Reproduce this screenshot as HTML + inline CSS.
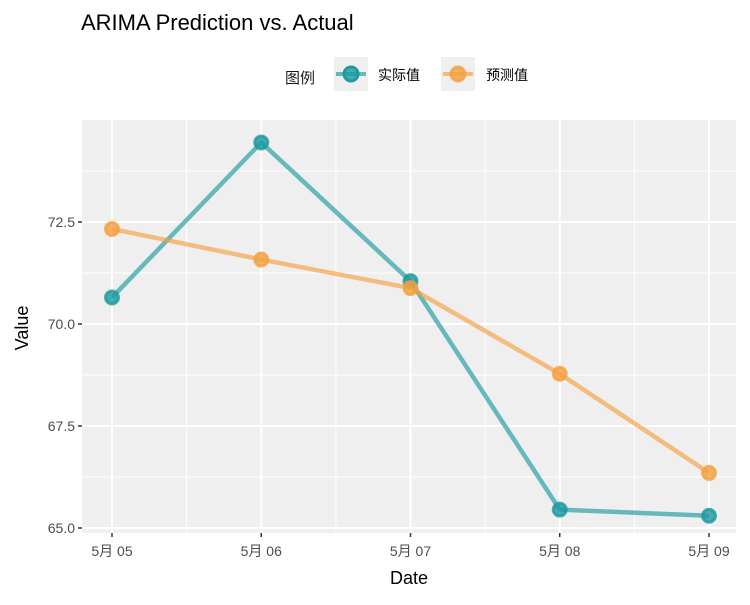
<!DOCTYPE html>
<html><head><meta charset="utf-8"><style>
body{margin:0;background:#fff;}
text{font-family:"Liberation Sans","Noto Sans CJK SC",sans-serif;}
</style></head><body>
<svg id="c" width="750" height="600" xmlns="http://www.w3.org/2000/svg">
<text x="81" y="30" font-size="22" fill="#000">ARIMA Prediction vs. Actual</text>
<g>
<text x="285" y="83" font-size="15" fill="#1a1a1a">图例</text>
<g>
<rect x="334" y="57" width="34" height="34" fill="#efefef"/>
<line x1="336" y1="74" x2="366" y2="74" stroke="#1b9aa0" stroke-opacity="0.65" stroke-width="4"/>
<circle cx="351" cy="74" r="7" fill="#1b9aa0" fill-opacity="0.8" stroke="#1b9aa0" stroke-width="3"/>
<text x="378" y="80" font-size="14" fill="#000">实际值</text></g>
<g>
<rect x="441" y="57" width="34" height="34" fill="#efefef"/>
<line x1="443" y1="74" x2="473" y2="74" stroke="#f4a040" stroke-opacity="0.65" stroke-width="4"/>
<circle cx="458" cy="74" r="7" fill="#f4a040" fill-opacity="0.8" stroke="#f4a040" stroke-opacity="0.8" stroke-width="3"/>
<text x="486" y="80" font-size="14" fill="#000">预测值</text></g>
</g>
<rect x="82" y="120" width="654" height="413" fill="#efefef"/>
<g id="grid"></g><g id="axes"></g><g id="series"></g>
<text x="409" y="584" font-size="18" text-anchor="middle" fill="#000">Date</text>
<text transform="translate(28,328) rotate(-90)" font-size="18" text-anchor="middle" fill="#000">Value</text>
</svg>
<script>
const categories=["5月 05","5月 06","5月 07","5月 08","5月 09"];
const actual=[70.65,74.45,71.05,65.45,65.3];
const predicted=[72.33,71.58,70.88,68.78,66.35];
const yTicks=[65.0,67.5,70.0,72.5];
const yTickLabels=["65.0","67.5","70.0","72.5"];
const NS="http://www.w3.org/2000/svg";
function x(i){return 112+i*149.25;}
function y(v){return 528-(v-65)*40.8;}
function mk(tag,attrs,parent){const e=document.createElementNS(NS,tag);for(const k in attrs)e.setAttribute(k,attrs[k]);document.getElementById(parent).appendChild(e);return e;}
for(let i=0;i<categories.length-1;i++){const l=mk('line',{x1:(x(i)+x(i+1))/2,x2:(x(i)+x(i+1))/2,y1:120,y2:533,stroke:'#fff','stroke-width':1},'grid');

}
for(let i=0;i<yTicks.length;i++){const v=yTicks[i]+1.25;const l=mk('line',{x1:82,x2:736,y1:y(v),y2:y(v),stroke:'#fff','stroke-width':1},'grid');

}
categories.forEach((c,i)=>{const l=mk('line',{x1:x(i),x2:x(i),y1:120,y2:533,stroke:'#fff','stroke-width':2},'grid');


const t=mk('line',{x1:x(i),x2:x(i),y1:533,y2:537,stroke:'#333','stroke-width':1.5},'axes');


const tx=mk('text',{x:x(i),y:556,'font-size':14,'text-anchor':'middle',fill:'#4d4d4d'},'axes');tx.textContent=c;

});
yTicks.forEach((v,i)=>{const l=mk('line',{x1:82,x2:736,y1:y(v),y2:y(v),stroke:'#fff','stroke-width':2},'grid');


const t=mk('line',{x1:78,x2:82,y1:y(v),y2:y(v),stroke:'#333','stroke-width':1.5},'axes');


const tx=mk('text',{x:75,y:y(v)+5,'font-size':14,'text-anchor':'end',fill:'#4d4d4d'},'axes');tx.textContent=yTickLabels[i];

});
function series(vals,col,name){
const p=mk('polyline',{points:vals.map((v,i)=>x(i)+','+y(v)).join(' '),fill:'none',stroke:col,'stroke-opacity':0.65,'stroke-width':4.5,'stroke-linejoin':'round'},'series');


vals.forEach((v,i)=>{const c=mk('circle',{cx:x(i),cy:y(v),r:6.5,fill:col,'fill-opacity':0.8,stroke:col,'stroke-opacity':0.8,'stroke-width':3},'series');

});}
series(actual,'#1b9aa0','actual');
series(predicted,'#f4a040','predicted');
</script>
</body></html>
